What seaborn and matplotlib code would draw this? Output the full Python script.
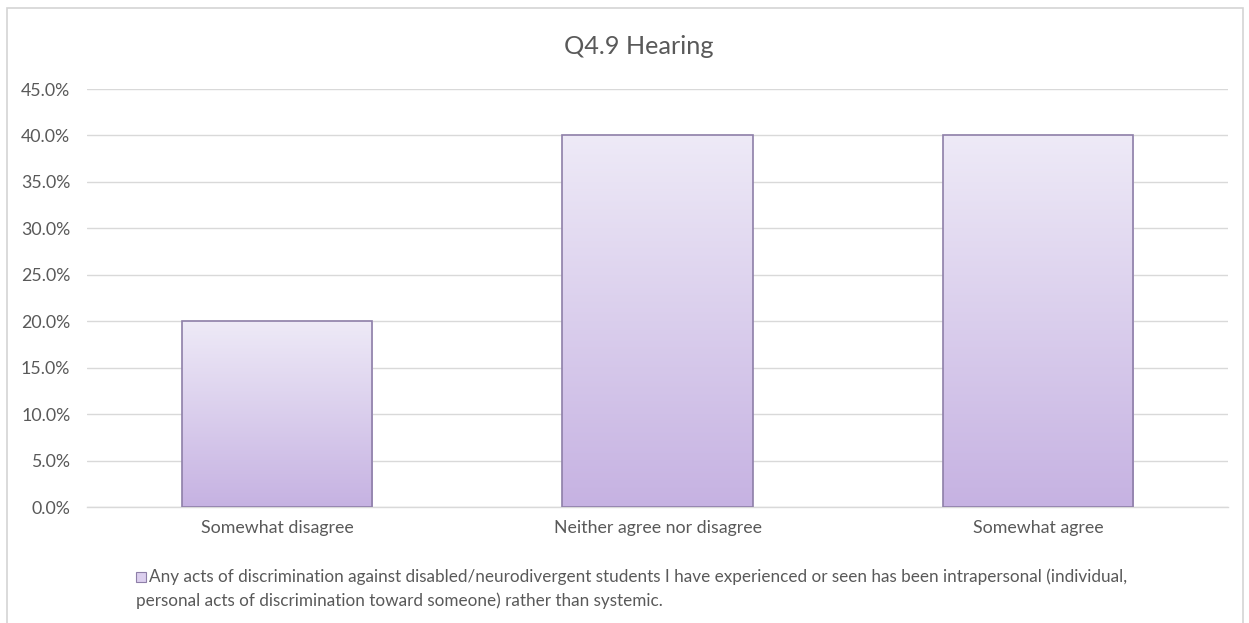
import numpy as np
import pandas as pd
import matplotlib
matplotlib.use("Agg")
import matplotlib.pyplot as plt
from matplotlib.patches import Rectangle
from matplotlib.colors import LinearSegmentedColormap
from matplotlib.ticker import FuncFormatter, MultipleLocator
import seaborn as sns

# Survey responses
categories = ["Somewhat disagree", "Neither agree nor disagree", "Somewhat agree"]
shares = [20.0, 40.0, 40.0]
title = "Q4.9 Hearing"
series_label = ("Any acts of discrimination against disabled/neurodivergent students I have experienced or seen has been intrapersonal (individual,",
                "personal acts of discrimination toward someone) rather than systemic.")

sns.set_theme(style="white")
plt.rcParams["font.family"] = ["Lato", "DejaVu Sans"]

W, H, DPI = 1249, 623, 100
fig = plt.figure(figsize=(W / DPI, H / DPI), dpi=DPI)

def fx(px):
    return px / W

def fy(py):
    return 1 - py / H

# Outer chart frame
frame = Rectangle((fx(7), fy(640)), fx(1243) - fx(7), fy(8) - fy(640),
                  transform=fig.transFigure, fill=False, edgecolor="#D4D4D4", lw=1.2)
fig.add_artist(frame)

ax = fig.add_axes([fx(87), fy(507), fx(1228) - fx(87), fy(89) - fy(507)])

df = pd.DataFrame({"category": categories, "share": shares})
sns.barplot(data=df, x="category", y="share", ax=ax, width=0.5,
            color="#DCCFEE", edgecolor="#8E7FA8", linewidth=1.2, zorder=3)

# Vertical lavender gradient inside each bar
cmap = LinearSegmentedColormap.from_list("lav", ["#C6B2E2", "#EEEAF7"])
grad = np.linspace(0, 1, 256).reshape(-1, 1)
for patch in ax.patches:
    x0, y0 = patch.get_x(), patch.get_y()
    w, h = patch.get_width(), patch.get_height()
    im = ax.imshow(grad, cmap=cmap, origin="lower", aspect="auto",
                   extent=(x0, x0 + w, y0, y0 + h), zorder=3.5)
    im.set_clip_path(patch)
    patch.set_facecolor("none")
    patch.set_zorder(4)

ax.set_xlim(-0.5, 2.5)
ax.set_ylim(0, 45)
ax.yaxis.set_major_locator(MultipleLocator(5))
ax.yaxis.set_major_formatter(FuncFormatter(lambda v, _: f"{v:.1f}%"))
ax.grid(axis="y", color="#D9D9D9", lw=1, zorder=0)
ax.set_axisbelow(True)
for s in ["top", "right", "left"]:
    ax.spines[s].set_visible(False)
ax.spines["bottom"].set_color("#D9D9D9")
ax.spines["bottom"].set_linewidth(1)
ax.set_xlabel("")
ax.set_ylabel("")
ax.tick_params(axis="both", length=0, labelsize=12.8, labelcolor="#595959")
ax.tick_params(axis="x", pad=9)
ax.tick_params(axis="y", pad=12)

fig.text(fx(639), fy(47), title, ha="center", va="center", fontsize=18.2, color="#595959")

# Legend entry: swatch plus wrapped label
sw = Rectangle((fx(136), fy(582)), fx(10), fy(572) - fy(582), transform=fig.transFigure,
               facecolor="#DCCFEE", edgecolor="#8E7FA8", lw=0.8)
fig.add_artist(sw)
fig.text(fx(149), fy(577), series_label[0], ha="left", va="center", fontsize=12.3, color="#595959")
fig.text(fx(136), fy(601), series_label[1], ha="left", va="center", fontsize=12.3, color="#595959")

fig.savefig("out.png", dpi=DPI)
